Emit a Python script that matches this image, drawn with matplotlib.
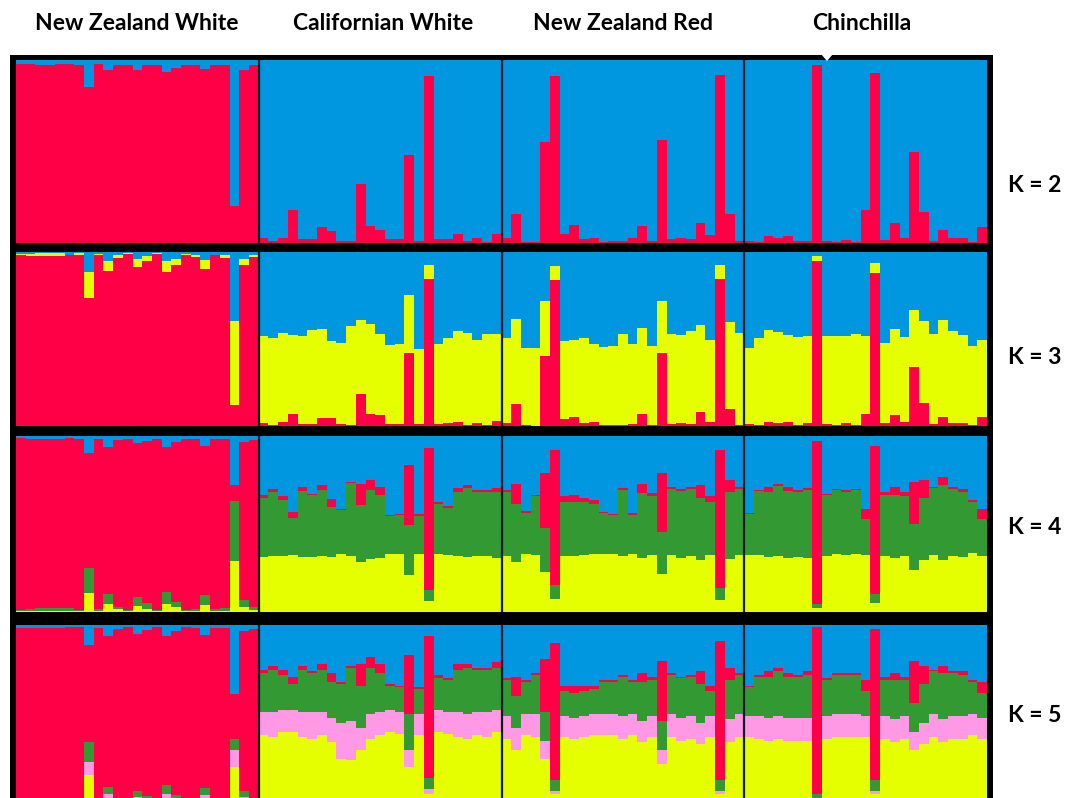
import matplotlib.pyplot as plt
from matplotlib.patches import Rectangle, Polygon

W, H = 1067, 798

breeds = ['New Zealand White', 'Californian White', 'New Zealand Red', 'Chinchilla']
k_labels = ['K = 2', 'K = 3', 'K = 4', 'K = 5']

RED = '#ff0046'
BLUE = '#0096e0'
YELLOW = '#e6ff00'
GREEN = '#339933'
PINK = '#ff99e6'

# ancestry proportions, 25 animals per breed (NZW, CAW, NZR, CHI);
# the blue cluster is whatever is left of each bar

# K = 2
k2_red = (
    [0.98, 0.98, 0.97, 0.97, 0.98, 0.98, 0.97, 0.854, 0.98, 0.945, 0.97, 0.97, 0.945,
     0.97, 0.97, 0.934, 0.958, 0.975, 0.97, 0.95, 0.97, 0.97, 0.20, 0.945, 0.975]
    + [0.027, 0.01, 0.03, 0.18, 0.02, 0.02, 0.085, 0.064, 0.01, 0.01, 0.32, 0.095, 0.073,
       0.02, 0.02, 0.48, 0.01, 0.91, 0.02, 0.02, 0.05, 0.013, 0.027, 0.005, 0.05]
    + [0.027, 0.16, 0.005, 0.005, 0.55, 0.91, 0.05, 0.10, 0.02, 0.03, 0.005, 0.013, 0.013,
       0.027, 0.095, 0.013, 0.565, 0.02, 0.027, 0.02, 0.11, 0.045, 0.92, 0.16, 0.01]
    + [0.01, 0.005, 0.04, 0.027, 0.04, 0.01, 0.01, 0.97, 0.01, 0.005, 0.018, 0.005, 0.18,
       0.93, 0.018, 0.11, 0.03, 0.50, 0.17, 0.01, 0.073, 0.027, 0.027, 0.005, 0.085]
)

# K = 3
k3_red = (
    [0.985, 0.977, 0.977, 0.977, 0.977, 0.98, 0.985, 0.738, 0.985, 0.891, 0.966, 0.987, 0.914,
     0.948, 0.987, 0.885, 0.927, 0.985, 0.971, 0.904, 0.98, 0.966, 0.12, 0.927, 0.971]
    + [0.019, 0.006, 0.025, 0.069, 0.011, 0.011, 0.044, 0.044, 0.011, 0.006, 0.184, 0.069, 0.063,
       0.011, 0.011, 0.417, 0.011, 0.847, 0.011, 0.019, 0.025, 0.006, 0.019, 0.006, 0.031]
    + [0.015, 0.126, 0.006, 0.0, 0.40, 0.841, 0.038, 0.054, 0.019, 0.025, 0.006, 0.006, 0.006,
       0.011, 0.069, 0.006, 0.417, 0.011, 0.019, 0.011, 0.082, 0.025, 0.847, 0.096, 0.006]
    + [0.011, 0.006, 0.025, 0.019, 0.025, 0.006, 0.015, 0.948, 0.011, 0.006, 0.019, 0.006, 0.069,
       0.881, 0.019, 0.063, 0.025, 0.337, 0.13, 0.011, 0.054, 0.019, 0.019, 0.006, 0.054]
)
k3_yellow = (
    [0.005, 0.01, 0.015, 0.015, 0.015, 0.005, 0.008, 0.147, 0.005, 0.057, 0.015, 0.005, 0.048,
     0.027, 0.005, 0.063, 0.034, 0.005, 0.012, 0.052, 0.005, 0.015, 0.482, 0.034, 0.013]
    + [0.497, 0.497, 0.512, 0.453, 0.505, 0.539, 0.512, 0.444, 0.467, 0.568, 0.424, 0.52, 0.465,
       0.453, 0.459, 0.335, 0.43, 0.076, 0.459, 0.484, 0.52, 0.53, 0.478, 0.522, 0.497]
    + [0.488, 0.488, 0.44, 0.446, 0.321, 0.076, 0.449, 0.44, 0.488, 0.444, 0.446, 0.455, 0.522,
       0.459, 0.497, 0.455, 0.30, 0.516, 0.503, 0.535, 0.497, 0.472, 0.08, 0.499, 0.53]
    + [0.44, 0.50, 0.526, 0.522, 0.497, 0.505, 0.50, 0.029, 0.505, 0.512, 0.497, 0.525, 0.447,
       0.057, 0.459, 0.493, 0.484, 0.329, 0.472, 0.516, 0.554, 0.526, 0.503, 0.453, 0.44]
)

# K = 4
k4_yellow = (
    [0.005, 0.005, 0.005, 0.005, 0.005, 0.005, 0.005, 0.108, 0.005, 0.047, 0.015, 0.005, 0.034,
     0.019, 0.005, 0.047, 0.028, 0.005, 0.005, 0.042, 0.005, 0.008, 0.288, 0.028, 0.01]
    + [0.313, 0.317, 0.317, 0.323, 0.313, 0.313, 0.319, 0.313, 0.328, 0.319, 0.285, 0.30, 0.307,
       0.328, 0.328, 0.209, 0.328, 0.061, 0.328, 0.323, 0.319, 0.313, 0.319, 0.317, 0.309]
    + [0.317, 0.285, 0.332, 0.326, 0.228, 0.076, 0.317, 0.317, 0.323, 0.328, 0.332, 0.332, 0.319,
       0.332, 0.304, 0.323, 0.218, 0.323, 0.309, 0.319, 0.298, 0.323, 0.07, 0.30, 0.323]
    + [0.323, 0.326, 0.313, 0.317, 0.309, 0.313, 0.309, 0.023, 0.319, 0.328, 0.323, 0.328, 0.323,
       0.051, 0.317, 0.304, 0.317, 0.237, 0.294, 0.323, 0.298, 0.317, 0.313, 0.338, 0.317]
)
k4_green = (
    [0.005, 0.01, 0.015, 0.015, 0.015, 0.015, 0.005, 0.142, 0.01, 0.057, 0.013, 0.005, 0.051,
     0.032, 0.005, 0.066, 0.028, 0.005, 0.01, 0.053, 0.012, 0.015, 0.343, 0.038, 0.019]
    + [0.336, 0.366, 0.319, 0.213, 0.374, 0.351, 0.374, 0.285, 0.25, 0.412, 0.323, 0.393, 0.357,
       0.216, 0.222, 0.288, 0.218, 0.066, 0.285, 0.269, 0.361, 0.393, 0.361, 0.366, 0.374]
    + [0.366, 0.328, 0.233, 0.332, 0.247, 0.08, 0.309, 0.306, 0.30, 0.283, 0.228, 0.218, 0.374,
       0.218, 0.37, 0.336, 0.237, 0.376, 0.378, 0.38, 0.351, 0.304, 0.066, 0.38, 0.376]
    + [0.231, 0.362, 0.37, 0.398, 0.378, 0.37, 0.383, 0.025, 0.345, 0.364, 0.36, 0.364, 0.203,
       0.053, 0.347, 0.36, 0.342, 0.262, 0.351, 0.38, 0.423, 0.381, 0.37, 0.288, 0.209]
)
k4_red = (
    [0.98, 0.97, 0.965, 0.965, 0.965, 0.97, 0.975, 0.651, 0.97, 0.835, 0.949, 0.975, 0.877,
     0.922, 0.975, 0.825, 0.911, 0.975, 0.97, 0.85, 0.968, 0.962, 0.089, 0.901, 0.948]
    + [0.015, 0.015, 0.023, 0.034, 0.021, 0.009, 0.028, 0.044, 0.009, 0.006, 0.12, 0.057, 0.047,
       0.006, 0.004, 0.338, 0.008, 0.803, 0.013, 0.011, 0.023, 0.015, 0.011, 0.008, 0.023]
    + [0.009, 0.112, 0.008, 0.009, 0.313, 0.765, 0.032, 0.042, 0.027, 0.025, 0.006, 0.006, 0.013,
       0.013, 0.051, 0.015, 0.336, 0.011, 0.011, 0.013, 0.072, 0.032, 0.784, 0.07, 0.013]
    + [0.009, 0.008, 0.028, 0.015, 0.021, 0.009, 0.015, 0.926, 0.009, 0.009, 0.009, 0.009, 0.059,
       0.841, 0.015, 0.044, 0.021, 0.241, 0.104, 0.009, 0.044, 0.013, 0.015, 0.009, 0.059]
)

# K = 5
k5_yellow = (
    [0.005, 0.005, 0.005, 0.005, 0.005, 0.005, 0.005, 0.16, 0.005, 0.03, 0.01, 0.005, 0.02,
     0.01, 0.005, 0.03, 0.015, 0.005, 0.005, 0.025, 0.005, 0.005, 0.20, 0.02, 0.005]
    + [0.38, 0.37, 0.40, 0.40, 0.37, 0.36, 0.38, 0.34, 0.25, 0.24, 0.30, 0.36, 0.38,
       0.40, 0.39, 0.20, 0.38, 0.05, 0.40, 0.39, 0.37, 0.36, 0.38, 0.37, 0.40]
    + [0.36, 0.30, 0.38, 0.37, 0.25, 0.05, 0.37, 0.36, 0.37, 0.38, 0.38, 0.38, 0.36,
       0.38, 0.34, 0.37, 0.22, 0.37, 0.35, 0.36, 0.33, 0.37, 0.05, 0.34, 0.37]
    + [0.37, 0.36, 0.35, 0.36, 0.35, 0.35, 0.35, 0.02, 0.36, 0.37, 0.37, 0.37, 0.37,
       0.05, 0.36, 0.34, 0.36, 0.30, 0.33, 0.37, 0.34, 0.36, 0.36, 0.38, 0.36]
)
k5_pink = (
    [0.005, 0.005, 0.005, 0.005, 0.005, 0.005, 0.005, 0.07, 0.005, 0.02, 0.005, 0.005, 0.015,
     0.01, 0.005, 0.02, 0.01, 0.005, 0.005, 0.02, 0.005, 0.005, 0.10, 0.015, 0.005]
    + [0.13, 0.14, 0.12, 0.12, 0.14, 0.15, 0.13, 0.14, 0.20, 0.22, 0.12, 0.14, 0.13,
       0.12, 0.12, 0.10, 0.12, 0.03, 0.12, 0.12, 0.14, 0.14, 0.13, 0.14, 0.12]
    + [0.13, 0.12, 0.12, 0.13, 0.10, 0.02, 0.12, 0.12, 0.12, 0.12, 0.12, 0.12, 0.13,
       0.12, 0.12, 0.12, 0.08, 0.13, 0.13, 0.13, 0.12, 0.12, 0.02, 0.13, 0.13]
    + [0.12, 0.13, 0.13, 0.13, 0.13, 0.13, 0.13, 0.01, 0.13, 0.13, 0.13, 0.13, 0.12,
       0.02, 0.13, 0.13, 0.13, 0.10, 0.12, 0.13, 0.13, 0.13, 0.13, 0.12, 0.12]
)
k5_green = (
    [0.005, 0.01, 0.01, 0.01, 0.01, 0.01, 0.005, 0.11, 0.01, 0.04, 0.01, 0.005, 0.035,
     0.02, 0.005, 0.05, 0.02, 0.005, 0.01, 0.04, 0.01, 0.01, 0.06, 0.03, 0.015]
    + [0.22, 0.24, 0.20, 0.15, 0.24, 0.22, 0.24, 0.20, 0.22, 0.30, 0.24, 0.26, 0.22,
       0.14, 0.14, 0.20, 0.14, 0.06, 0.18, 0.18, 0.24, 0.26, 0.24, 0.24, 0.24]
    + [0.20, 0.18, 0.18, 0.22, 0.16, 0.06, 0.14, 0.14, 0.14, 0.14, 0.18, 0.18, 0.22,
       0.18, 0.22, 0.20, 0.16, 0.22, 0.22, 0.22, 0.22, 0.14, 0.06, 0.22, 0.22]
    + [0.16, 0.22, 0.23, 0.25, 0.23, 0.23, 0.24, 0.02, 0.20, 0.22, 0.22, 0.22, 0.14,
       0.06, 0.20, 0.22, 0.20, 0.16, 0.22, 0.24, 0.26, 0.24, 0.23, 0.18, 0.14]
)
k5_red = (
    [0.97, 0.965, 0.965, 0.965, 0.965, 0.97, 0.975, 0.55, 0.965, 0.85, 0.95, 0.975, 0.88,
     0.93, 0.975, 0.84, 0.92, 0.975, 0.965, 0.86, 0.965, 0.965, 0.25, 0.90, 0.95]
    + [0.02, 0.02, 0.03, 0.04, 0.02, 0.01, 0.03, 0.05, 0.01, 0.01, 0.12, 0.06, 0.05,
       0.01, 0.01, 0.33, 0.01, 0.80, 0.02, 0.01, 0.03, 0.02, 0.01, 0.01, 0.03]
    + [0.01, 0.11, 0.01, 0.01, 0.30, 0.77, 0.03, 0.04, 0.03, 0.02, 0.01, 0.01, 0.01,
       0.01, 0.05, 0.02, 0.34, 0.01, 0.01, 0.01, 0.07, 0.03, 0.78, 0.07, 0.01]
    + [0.01, 0.01, 0.03, 0.02, 0.02, 0.01, 0.02, 0.94, 0.01, 0.01, 0.01, 0.01, 0.06,
       0.85, 0.02, 0.04, 0.02, 0.24, 0.10, 0.01, 0.04, 0.01, 0.02, 0.01, 0.06]
)

# stacking order from the bottom of each bar
rows = [
    [(k2_red, RED)],
    [(k3_red, RED), (k3_yellow, YELLOW)],
    [(k4_yellow, YELLOW), (k4_green, GREEN), (k4_red, RED)],
    [(k5_yellow, YELLOW), (k5_pink, PINK), (k5_green, GREEN), (k5_red, RED)],
]

# pixel boxes (top, bottom) of each row and its label height
row_px = [(60, 243), (252, 426), (436, 612), (625, 803)]
label_y = [185, 358, 528, 715]
LEFT, RIGHT = 16, 987
title_x = [137, 383, 623, 862]


def px_axes(fig, left, top, right, bottom):
    return fig.add_axes([left / W, 1 - bottom / H, (right - left) / W, (bottom - top) / H])


def structure_row(ax, layers):
    n = len(layers[0][0])
    x = list(range(n))
    base = [0.0] * n
    for values, color in layers:
        ax.bar(x, values, bottom=base, width=1.0, align='edge', color=color,
               linewidth=0, antialiased=False)
        base = [b + v for b, v in zip(base, values)]
    rest = [max(0.0, 1 - b) for b in base]
    ax.bar(x, rest, bottom=base, width=1.0, align='edge', color=BLUE,
           linewidth=0, antialiased=False)
    for edge in (25, 50, 75):
        ax.axvline(edge, color='#0d1a24', lw=1.6)
    ax.set_xlim(0, n)
    ax.set_ylim(0, 1)
    ax.axis('off')


def main():
    fig = plt.figure(figsize=(W / 100, H / 100), dpi=100)
    fig.patch.set_facecolor('white')

    # black frame behind all rows
    fig.add_artist(Rectangle((10 / W, 0), (993 - 10) / W, (H - 55) / H,
                             transform=fig.transFigure, facecolor='black',
                             edgecolor='none', zorder=0))

    for (top, bottom), layers, lab, ly in zip(row_px, rows, k_labels, label_y):
        ax = px_axes(fig, LEFT, top, RIGHT, bottom)
        structure_row(ax, layers)
        fig.text(1035 / W, 1 - ly / H, lab, ha='center', va='center',
                 fontsize=16.5, fontweight='bold', family='Lato')

    for name, tx in zip(breeds, title_x):
        fig.text(tx / W, 1 - 24 / H, name, ha='center', va='center',
                 fontsize=16.5, fontweight='bold', family='Lato')

    # little pointer under the Chinchilla heading
    fig.add_artist(Polygon([(821 / W, 1 - 54 / H), (833 / W, 1 - 54 / H), (827 / W, 1 - 61 / H)],
                           closed=True, transform=fig.transFigure, facecolor='white',
                           edgecolor='none', zorder=5))

    fig.savefig('out.png', dpi=100)


if __name__ == '__main__':
    main()
